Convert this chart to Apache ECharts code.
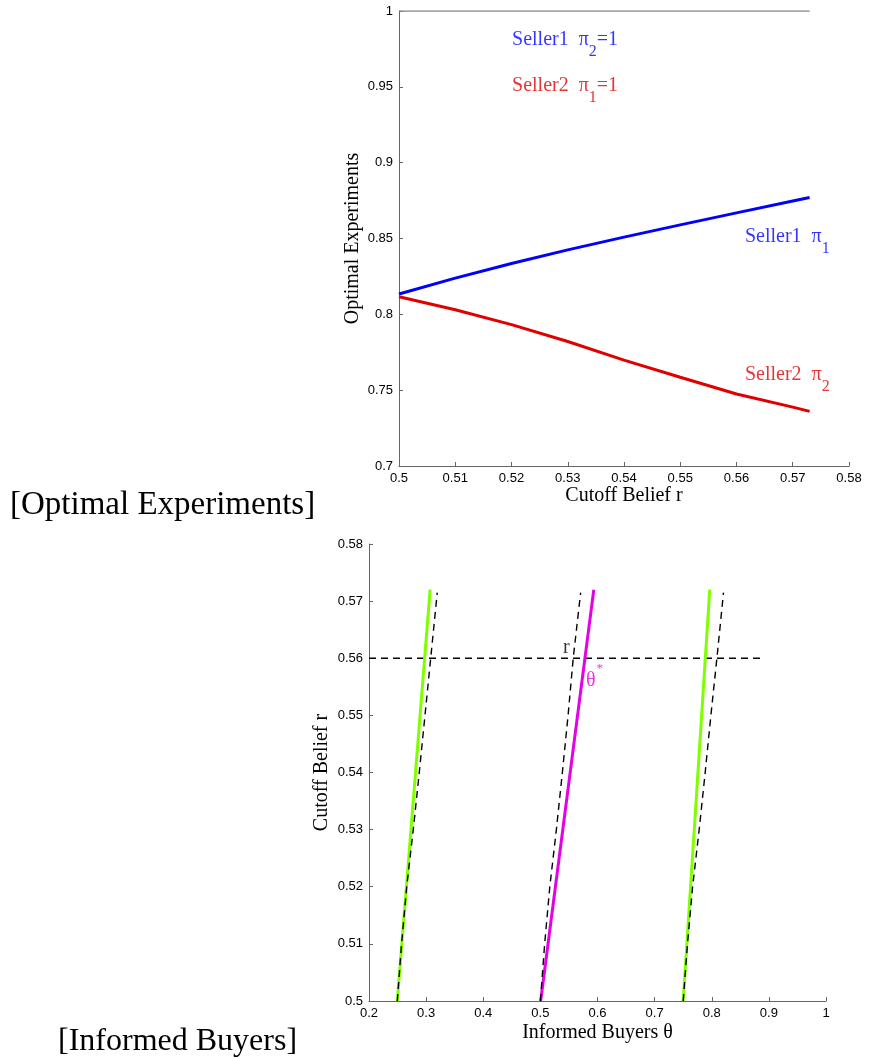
<!DOCTYPE html>
<html>
<head>
<meta charset="utf-8">
<script src="https://cdn.jsdelivr.net/npm/echarts@6/dist/echarts.min.js"></script>
<style>
html,body{margin:0;padding:0;background:#fff;}
#chart{width:872px;height:1059px;}
</style>
</head>
<body>
<div id="chart"></div>
<script>
// ---------- DATA ----------
// Top panel: Optimal Experiments vs Cutoff Belief r
const topR = [0.5, 0.51, 0.52, 0.53, 0.54, 0.55, 0.56, 0.57, 0.573];
const seller1Pi1 = [0.8134, 0.8239, 0.8335, 0.8425, 0.8509, 0.8590, 0.8669, 0.8747, 0.8770];
const seller2Pi2 = [0.8116, 0.8030, 0.7932, 0.7821, 0.7698, 0.7585, 0.7475, 0.7388, 0.7360];
const unitR = [0.5, 0.573];
const unitVal = [1, 1];
const topXTicks = ['0.5','0.51','0.52','0.53','0.54','0.55','0.56','0.57','0.58'];
const topYTicks = ['0.7','0.75','0.8','0.85','0.9','0.95','1'];

// Bottom panel: Cutoff Belief r vs Informed Buyers theta
const dashR = [0.5, 0.51, 0.52, 0.53, 0.54, 0.55, 0.56, 0.5715];
const dashLeft = [0.2495, 0.257, 0.266, 0.2775, 0.288, 0.298, 0.308, 0.3195];
const dashMid = [0.5, 0.5075, 0.5165, 0.528, 0.5385, 0.5485, 0.5575, 0.5705];
const dashRight = [0.75, 0.7575, 0.7665, 0.778, 0.7885, 0.7985, 0.8090, 0.8206];
const solidR = [0.5, 0.572];
const greenLeft = [0.2495, 0.307];
const thetaStar = [0.5005, 0.5935];
const greenRight = [0.75, 0.7965];
const hLineTheta = [0.2, 0.888];
const hLineR = [0.56, 0.56];
const botXTicks = ['0.2','0.3','0.4','0.5','0.6','0.7','0.8','0.9','1'];
const botYTicks = ['0.5','0.51','0.52','0.53','0.54','0.55','0.56','0.57','0.58'];

// ---------- HELPERS ----------
function zip(xs, ys) { return xs.map((x, i) => [x, ys[i]]); }
function tickFmt(labels) {
  return function (v) {
    const f = labels.find(l => Math.abs(parseFloat(l) - v) < 1e-7);
    return f === undefined ? '' : f;
  };
}
const SERIF = 'Liberation Serif';
const SANS = 'Liberation Sans';
const AXIS_COLOR = '#666';

function axisCommon(labels) {
  return {
    type: 'value',
    axisLine: { show: true, onZero: false, lineStyle: { color: AXIS_COLOR, width: 1 } },
    axisTick: { show: true, inside: true, length: 4, lineStyle: { color: AXIS_COLOR } },
    splitLine: { show: false },
    axisLabel: { show: true, color: '#000', fontFamily: SANS, fontSize: 13, margin: 6, formatter: tickFmt(labels), showMinLabel: true, showMaxLabel: true },
    nameTextStyle: { fontFamily: SERIF, fontSize: 20, color: '#000' }
  };
}

function subLabel(main, sub, tail, color) {
  return {
    show: true, position: 'right', distance: 0,
    formatter: '{m|' + main + '}{s|' + sub + '}' + (tail ? '{m|' + tail + '}' : ''),
    rich: {
      m: { fontFamily: SERIF, fontSize: 20, color: color, lineHeight: 22, verticalAlign: 'top' },
      s: { fontFamily: SERIF, fontSize: 16, color: color, padding: [14, 0, 0, 0], verticalAlign: 'top' }
    }
  };
}

function annot(gridIdx, pt, label) {
  return {
    type: 'scatter', xAxisIndex: gridIdx, yAxisIndex: gridIdx,
    symbolSize: 0, silent: true, data: [pt], label: label, z: 10
  };
}

const BLUE = '#0000ff';
const RED = '#e00000';
const GREEN = '#80ff00';
const MAGENTA = '#e600e6';

const option = {
  animation: false,
  backgroundColor: '#fff',
  grid: [
    { left: 399, top: 11, width: 450, height: 455 },
    { left: 369, top: 544, width: 457, height: 457 }
  ],
  xAxis: [
    Object.assign(axisCommon(topXTicks), { gridIndex: 0, min: 0.5, max: 0.58, interval: 0.01,
      name: 'Cutoff Belief r', nameLocation: 'middle', nameGap: 17 }),
    Object.assign(axisCommon(botXTicks), { gridIndex: 1, min: 0.2, max: 1, interval: 0.1,
      name: 'Informed Buyers θ', nameLocation: 'middle', nameGap: 22 })
  ],
  yAxis: [
    Object.assign(axisCommon(topYTicks), { gridIndex: 0, min: 0.7, max: 1, interval: 0.05,
      name: 'Optimal Experiments', nameLocation: 'middle', nameGap: 36, nameMoveOverlap: false }),
    Object.assign(axisCommon(botYTicks), { gridIndex: 1, min: 0.5, max: 0.58, interval: 0.01,
      name: 'Cutoff Belief r', nameLocation: 'middle', nameGap: 37, nameMoveOverlap: false })
  ],
  title: [
    { text: '[Optimal Experiments]', left: 10, top: 489,
      textStyle: { fontFamily: SERIF, fontSize: 33, fontWeight: 'normal', color: '#000' }, padding: 0 },
    { text: '[Informed Buyers]', left: 58, top: 1026,
      textStyle: { fontFamily: SERIF, fontSize: 32, fontWeight: 'normal', color: '#000' }, padding: 0 }
  ],
  series: [
    // top panel
    { type: 'line', xAxisIndex: 0, yAxisIndex: 0, data: zip(unitR, unitVal), showSymbol: false,
      lineStyle: { color: '#888', width: 1.5 }, z: 3 },
    { type: 'line', xAxisIndex: 0, yAxisIndex: 0, data: zip(topR, seller1Pi1), showSymbol: false,
      lineStyle: { color: BLUE, width: 3 } },
    { type: 'line', xAxisIndex: 0, yAxisIndex: 0, data: zip(topR, seller2Pi2), showSymbol: false,
      lineStyle: { color: RED, width: 3 } },
    annot(0, [0.5201, 0.9776], subLabel('Seller1  π', '2', '=1', BLUE)),
    annot(0, [0.5201, 0.9476], subLabel('Seller2  π', '1', '=1', RED)),
    annot(0, [0.5615, 0.8476], subLabel('Seller1  π', '1', '', BLUE)),
    annot(0, [0.5615, 0.7566], subLabel('Seller2  π', '2', '', RED)),
    // bottom panel
    { type: 'line', xAxisIndex: 1, yAxisIndex: 1, data: zip(hLineTheta, hLineR), showSymbol: false,
      lineStyle: { color: '#000', width: 1.4, type: [7, 5] } },
    { type: 'line', xAxisIndex: 1, yAxisIndex: 1, data: zip(greenLeft, solidR), showSymbol: false,
      lineStyle: { color: GREEN, width: 3 } },
    { type: 'line', xAxisIndex: 1, yAxisIndex: 1, data: zip(thetaStar, solidR), showSymbol: false,
      lineStyle: { color: MAGENTA, width: 3 } },
    { type: 'line', xAxisIndex: 1, yAxisIndex: 1, data: zip(greenRight, solidR), showSymbol: false,
      lineStyle: { color: GREEN, width: 3 } },
    { type: 'line', xAxisIndex: 1, yAxisIndex: 1, data: zip(dashLeft, dashR), showSymbol: false,
      lineStyle: { color: '#000', width: 1.4, type: [7, 5] } },
    { type: 'line', xAxisIndex: 1, yAxisIndex: 1, data: zip(dashMid, dashR), showSymbol: false,
      lineStyle: { color: '#000', width: 1.4, type: [7, 5] } },
    { type: 'line', xAxisIndex: 1, yAxisIndex: 1, data: zip(dashRight, dashR), showSymbol: false,
      lineStyle: { color: '#000', width: 1.4, type: [7, 5] } },
    annot(1, [0.5397, 0.5618], { show: true, position: 'right', distance: 0, formatter: 'r',
      fontFamily: SERIF, fontSize: 20, color: '#000' }),
    annot(1, [0.5797, 0.5568], { show: true, position: 'right', distance: 0,
      formatter: '{t|θ}{a|*}',
      rich: {
        t: { fontFamily: SERIF, fontSize: 20, color: MAGENTA, padding: [8, 0, 0, 0], verticalAlign: 'top' },
        a: { fontFamily: SERIF, fontSize: 13, color: MAGENTA, verticalAlign: 'top', padding: [0, 0, 0, 1] }
      } })
  ]
};

const chart = echarts.init(document.getElementById('chart'), null, { renderer: 'canvas' });
chart.setOption(option);
</script>
</body>
</html>
